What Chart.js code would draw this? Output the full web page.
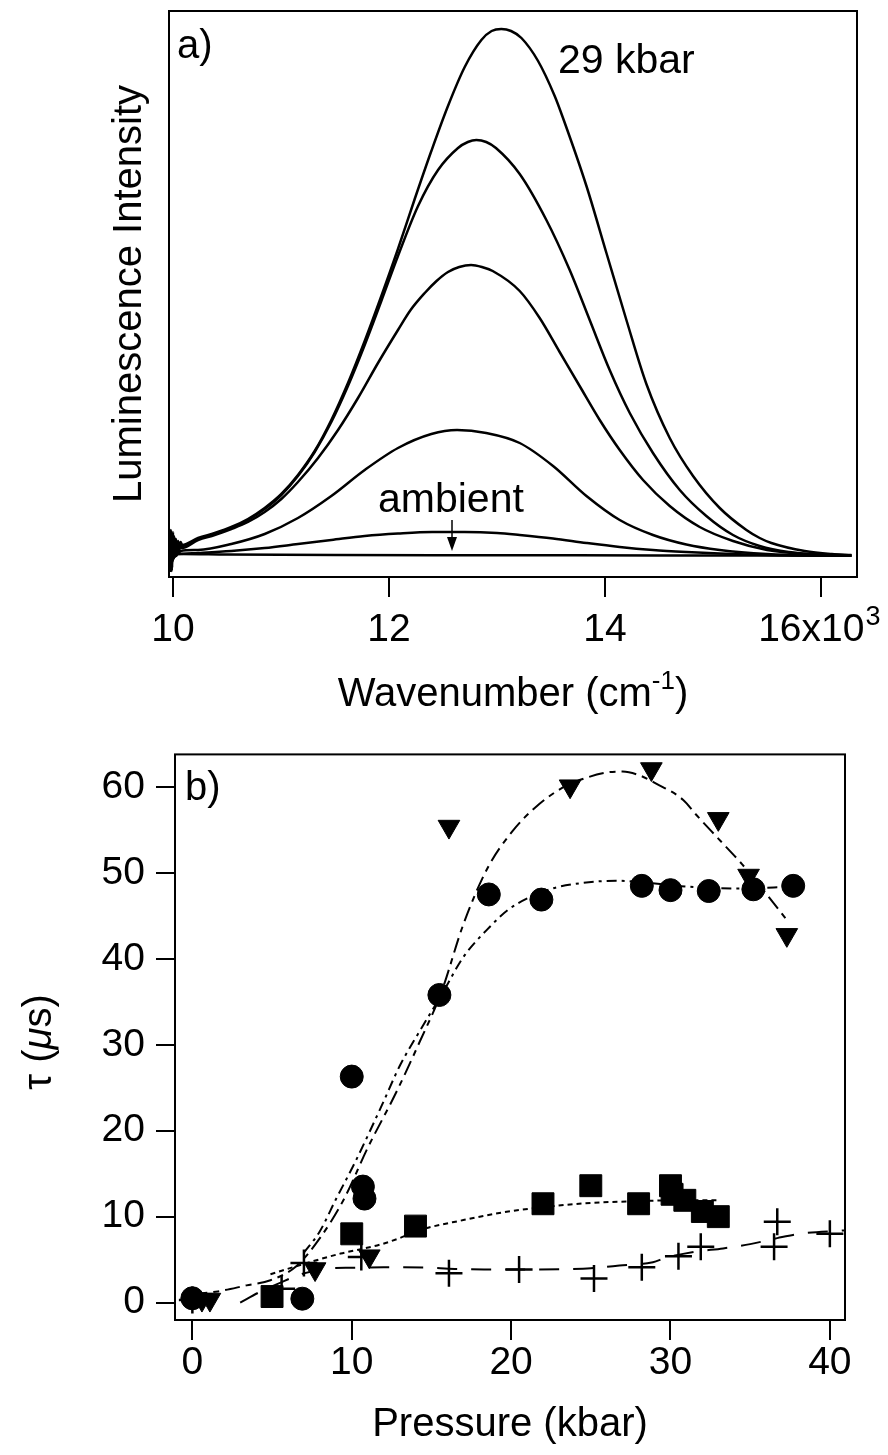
<!DOCTYPE html>
<html>
<head>
<meta charset="utf-8">
<script src="https://cdn.jsdelivr.net/npm/chart.js@4.4.1/dist/chart.umd.min.js"></script>
<style>
  html, body { margin: 0; padding: 0; background: #fff; }
  #wrap { position: relative; width: 888px; height: 1455px; }
  canvas { position: absolute; left: 0; }
  #spectra { top: 0; }
  #lifetimes { top: 720px; }
</style>
</head>
<body>
<div id="wrap">
  <canvas id="spectra" width="888" height="720"></canvas>
  <canvas id="lifetimes" width="888" height="735"></canvas>
</div>
<script>
// --- panel a: luminescence spectra, [wavenumber, intensity] ---
const WN_TICKS = [10000, 12000, 14000, 16000];
const WN_TICK_LABELS = ['10', '12', '14', '16x10\u2002'];
const WN_EXPONENT = '3';   // superscript drawn after the last tick label

const SPEC_29KBAR = [
  [9972, 22], [9976, -14], [9980, 26], [9985, -10], [9990, 20], [9995, -6], [10000, 24], [10006, -3],
  [10013, 19], [10020, 0], [10028, 17], [10037, 4], [10047, 15], [10058, 8], [10070, 14], [10085, 11],
  [10232, 18], [10386, 23], [10540, 29], [10694, 37], [10849, 48], [11003, 62], [11157, 81],
  [11312, 105], [11466, 136], [11620, 173], [11775, 215], [11929, 260], [12083, 307], [12238, 357],
  [12392, 405], [12546, 450], [12701, 489], [12855, 516], [12950, 525], [13040, 527], [13130, 525],
  [13226, 518], [13380, 495], [13534, 460], [13611, 438], [13828, 370], [14013, 303], [14198, 236],
  [14383, 172], [14599, 118], [14815, 80], [15062, 48], [15309, 26], [15432, 18], [15540, 13],
  [15849, 5], [16100, 2], [16281, 1]
];
const SPEC_2 = [
  [9973, -16], [9977, 21], [9982, -8], [9987, 24], [9992, -12], [9997, 18], [10003, -4], [10010, 20],
  [10017, 1], [10025, 16], [10034, 3], [10044, 14], [10055, 6], [10068, 12], [10083, 10],
  [10232, 17], [10386, 22], [10540, 28], [10694, 36], [10849, 47], [11003, 61], [11157, 80],
  [11312, 104], [11466, 134], [11620, 170], [11775, 211], [11929, 255], [12083, 300], [12269, 350],
  [12454, 386], [12639, 408], [12730, 414], [12809, 416], [12900, 414], [12990, 408], [13210, 382],
  [13457, 336], [13673, 286], [13858, 236], [14043, 186], [14229, 143], [14444, 103], [14692, 66],
  [14938, 40], [15185, 21], [15432, 10], [15700, 4], [16000, 1.5], [16281, 0.5]
];
const SPEC_3 = [
  [9974, 20], [9978, -12], [9983, 17], [9989, -15], [9994, 14], [10000, -2], [10007, 16], [10015, -1],
  [10023, 13], [10032, 2], [10042, 11], [10054, 5], [10067, 10], [10082, 8],
  [10232, 16], [10386, 21], [10540, 27], [10694, 34], [10849, 44], [11003, 57], [11157, 74],
  [11343, 98], [11528, 126], [11713, 158], [11898, 193], [12083, 226], [12200, 246], [12331, 263],
  [12440, 275], [12546, 284], [12650, 289], [12760, 291], [12860, 289], [12960, 285], [13210, 265],
  [13395, 238], [13580, 204], [13765, 170], [13951, 136], [14136, 106], [14352, 76], [14599, 50],
  [14877, 29], [15185, 15], [15500, 6], [15850, 2], [16281, 0.5]
];
const SPEC_4 = [
  [9975, 12], [9980, -9], [9986, 10], [9993, -6], [10000, 9], [10008, -2], [10017, 8], [10027, 1],
  [10038, 7], [10052, 3], [10070, 5],
  [10232, 6], [10540, 12], [10849, 22], [11157, 38], [11466, 60], [11775, 86], [12083, 108],
  [12392, 122], [12630, 126], [12900, 123], [13210, 113], [13519, 90], [13828, 60], [14136, 36],
  [14444, 21], [14753, 11.5], [15062, 6], [15500, 2], [16000, 0.5], [16281, 0.3]
];
const SPEC_5 = [
  [9976, 8], [9982, -7], [9989, 7], [9997, -4], [10006, 5], [10016, -1], [10028, 4], [10045, 2],
  [10232, 3], [10540, 5], [10849, 8], [11157, 12], [11466, 16], [11775, 20], [12083, 22.5],
  [12400, 24], [12700, 24], [13000, 23], [13210, 21], [13519, 17.5], [13828, 13], [14136, 9],
  [14444, 6], [14753, 4], [15062, 2.5], [15500, 1], [16281, 0.2]
];
const SPEC_AMBIENT = [
  [9978, 5], [9985, -6], [9993, 4], [10002, -3], [10013, 3], [10027, 0], [10045, 2], [10080, 2],
  [10500, 1.5], [11500, 1], [13000, 0.8], [14500, 0.5], [16281, 0.3]
];

// --- panel b: lifetimes vs pressure, [kbar, tau in us] ---
const P_TICKS = [0, 10, 20, 30, 40];
const TAU_TICKS = [0, 10, 20, 30, 40, 50, 60];

const TRIANGLES = [[0.6, 0.35], [1.1, 0.35], [7.7, 3.9], [11.1, 5.4], [16.1, 55.4], [23.7, 60.1],
  [28.8, 62.1], [33.0, 56.3], [34.9, 49.7], [37.3, 42.8]];
const CIRCLES = [[0, 0.5], [6.9, 0.45], [10.0, 26.3], [10.7, 13.5], [10.8, 12.1], [15.5, 35.8],
  [18.6, 47.5], [21.9, 46.9], [28.2, 48.5], [30.0, 48.0], [32.4, 47.9], [35.2, 48.1], [37.7, 48.5]];
const SQUARES = [[5.0, 0.7], [10.0, 8.0], [14.0, 8.9], [22.0, 11.5], [25.0, 13.6], [28.0, 11.5],
  [30.0, 13.6], [30.1, 12.6], [30.9, 11.9], [32.0, 10.6], [33.0, 10.0]];
const CROSSES = [[0, 0.3], [5.6, 1.6], [7.0, 4.6], [10.6, 5.3], [16.1, 3.4], [20.5, 3.85], [25.2, 2.8],
  [28.2, 4.1], [30.5, 5.4], [31.9, 6.5], [36.5, 6.5], [36.7, 9.4], [40.0, 8.0]];

const FIT_TRI = [[0, 1.0], [1.6, 1.3], [3.4, 2.0], [4.9, 2.6], [6.5, 4.2], [8, 7.5], [9.5, 12], [11, 18],
  [12.8, 24.5], [14.3, 30.5], [15.6, 36], [17, 44], [18.5, 50.5], [20.1, 54.9], [21.5, 57.6],
  [23.2, 59.9], [24.6, 61], [26, 61.7], [27, 61.8], [28, 61.4], [29.1, 60.4], [30.8, 58.5],
  [31.6, 56.8], [33, 54], [34.5, 51], [36, 47.6], [37.4, 44.3]];
const FIT_CIR = [[7, 5.8], [8, 8.3], [9, 12], [10.2, 16.3], [11.9, 23], [13, 27.5], [14.2, 31.4],
  [15.6, 35.7], [17, 40.2], [18.7, 43.8], [19.8, 45.7], [21.2, 47.2], [22.6, 48.2], [24.3, 48.8],
  [26.6, 49.1], [28.3, 48.9], [31.1, 48.4], [33.9, 48.2], [37.8, 48.4]];
const FIT_SQR = [[4.9, 3.3], [7, 4.5], [9.3, 5.7], [11.8, 6.75], [13, 7.5], [14.2, 8.4], [17, 9.6],
  [19.5, 10.5], [22, 11.1], [25, 11.6], [28, 11.8], [30, 11.9], [32.9, 11.9]];
const FIT_CRS = [[3, 0], [4.2, 1.2], [5.5, 2.3], [7, 3.4], [8.5, 3.95], [10, 4.05], [12, 4.1],
  [14.9, 4.05], [16.7, 3.9], [18.3, 3.85], [20, 3.85], [21.5, 3.85], [23.5, 3.9], [25, 4.0],
  [26.8, 4.3], [28.9, 4.7], [29.7, 5.2], [31.5, 5.9], [33.3, 6.3], [35, 6.8], [36.7, 7.5],
  [38.1, 8.0], [40.9, 8.4]];

const FONT = "'Liberation Sans', Arial, Helvetica, sans-serif";
Chart.defaults.font.family = FONT;
Chart.defaults.color = '#000';

const toXY = pts => pts.map(p => ({ x: p[0], y: p[1] }));

// igor-style outside tick marks, no axis line (box is drawn separately)
const tickGrid = len => ({ drawOnChartArea: false, drawTicks: true, tickLength: len, color: '#000', lineWidth: 2 });

// fixed axis size; edge labels may hang out, so don't let them shrink the plot
const fixHeight = h => s => { s.height = h; s.paddingLeft = 0; s.paddingRight = 0; };

// draws the frame round the plot area
const frame = {
  id: 'frame',
  afterDatasetsDraw(chart) {
    const { ctx, chartArea: a } = chart;
    ctx.save();
    ctx.strokeStyle = '#000';
    ctx.lineWidth = 2;
    ctx.strokeRect(a.left, a.top, a.right - a.left, a.bottom - a.top);
    ctx.restore();
  }
};

// write a run of [text, font, dy] pieces, centred on cx
function drawRuns(ctx, runs, cx, y) {
  let total = 0;
  runs.forEach(r => { ctx.font = r[1]; total += ctx.measureText(r[0]).width; });
  let x = cx - total / 2;
  runs.forEach(r => {
    ctx.font = r[1];
    ctx.fillText(r[0], x, y + (r[2] || 0));
    x += ctx.measureText(r[0]).width;
  });
}

const spectraText = {
  id: 'spectraText',
  afterDraw(chart) {
    const ctx = chart.ctx;
    ctx.save();
    ctx.fillStyle = '#000';
    ctx.strokeStyle = '#000';
    ctx.textBaseline = 'alphabetic';
    ctx.textAlign = 'left';
    ctx.font = '40px ' + FONT;
    ctx.fillText('a)', 177, 58);
    ctx.font = '41px ' + FONT;
    ctx.fillText('29 kbar', 558, 73);
    ctx.fillText('ambient', 378, 512);

    // arrow down to the ambient trace
    ctx.lineWidth = 1.5;
    ctx.beginPath();
    ctx.moveTo(452, 520);
    ctx.lineTo(452, 540);
    ctx.stroke();
    ctx.beginPath();
    ctx.moveTo(447, 537);
    ctx.lineTo(457, 537);
    ctx.lineTo(452, 551);
    ctx.closePath();
    ctx.fill();

    // exponent on the last tick label
    const xs = chart.scales.x;
    const last = WN_TICKS.length - 1;
    ctx.font = '39px ' + FONT;
    const full = ctx.measureText(WN_TICK_LABELS[last]).width;
    const pad = ctx.measureText('\u2002').width;
    const ex = xs.getPixelForValue(WN_TICKS[last]) + full / 2 - pad + 1;
    ctx.font = '27px ' + FONT;
    ctx.fillText(WN_EXPONENT, ex, 625);

    // x title with superscript
    const cx = (chart.chartArea.left + chart.chartArea.right) / 2;
    drawRuns(ctx, [
      ['Wavenumber (cm', '40px ' + FONT],
      ['-1', '26px ' + FONT, -17],
      [')', '40px ' + FONT]
    ], cx, 706);
    ctx.restore();
  }
};

const lifetimeText = {
  id: 'lifetimeText',
  afterDraw(chart) {
    const ctx = chart.ctx;
    ctx.save();
    ctx.fillStyle = '#000';
    ctx.textAlign = 'left';
    ctx.textBaseline = 'alphabetic';
    ctx.font = '40px ' + FONT;
    ctx.fillText('b)', 185, 80);

    ctx.translate(40, 322);
    ctx.rotate(-Math.PI / 2);
    ctx.textBaseline = 'middle';
    drawRuns(ctx, [
      ['\u03C4 (', '40px ' + FONT],
      ['\u03BC', 'italic 40px ' + FONT],
      ['s)', '40px ' + FONT]
    ], 0, 0);
    ctx.restore();
  }
};

function spectrumSet(pts) {
  return {
    data: toXY(pts), borderColor: '#000', borderWidth: 2.5, pointRadius: 0,
    cubicInterpolationMode: 'monotone', fill: false
  };
}

new Chart(document.getElementById('spectra'), {
  type: 'line',
  data: {
    datasets: [SPEC_29KBAR, SPEC_2, SPEC_3, SPEC_4, SPEC_5, SPEC_AMBIENT].map(spectrumSet)
  },
  options: {
    responsive: false,
    animation: false,
    devicePixelRatio: 1,
    layout: { padding: { left: 0, right: 31, top: 11, bottom: 0 } },
    plugins: { legend: { display: false }, tooltip: { enabled: false } },
    scales: {
      x: {
        type: 'linear', min: 9963, max: 16333,
        afterBuildTicks: s => { s.ticks = WN_TICKS.map(v => ({ value: v })); },
        afterFit: fixHeight(143),
        ticks: {
          callback: (v, i) => WN_TICK_LABELS[i],
          font: { size: 39 }, padding: 10, maxRotation: 0, autoSkip: false
        },
        grid: tickGrid(20),
        border: { display: false }
      },
      y: {
        min: -21, max: 545,
        afterFit: s => { s.width = 169; },
        ticks: { display: false },
        grid: { display: false },
        border: { display: false },
        title: {
          display: true, text: 'Luminescence Intensity',
          font: { size: 40 }, padding: { top: 106, bottom: 0 }
        }
      }
    }
  },
  plugins: [frame, spectraText]
});

function markerSet(pts, style, radius, extra) {
  return Object.assign({
    data: toXY(pts), showLine: false, pointStyle: style, pointRadius: radius,
    pointBackgroundColor: '#000', pointBorderColor: '#000', pointBorderWidth: 1,
    borderColor: '#000', order: 0
  }, extra || {});
}

function fitSet(pts, dash) {
  return {
    data: toXY(pts), borderColor: '#000', borderWidth: 2, borderDash: dash,
    pointRadius: 0, cubicInterpolationMode: 'monotone', fill: false, order: 1
  };
}

new Chart(document.getElementById('lifetimes'), {
  type: 'line',
  data: {
    datasets: [
      markerSet(TRIANGLES, 'triangle', 12.5, { pointRotation: 180 }),
      markerSet(CIRCLES, 'circle', 11.5),
      markerSet(SQUARES, 'rect', 15.5),
      markerSet(CROSSES, 'cross', 13.5, { pointBorderWidth: 2.5 }),
      fitSet(FIT_TRI, [15, 6, 6, 6]),
      fitSet(FIT_CIR, [10, 5, 3, 5]),
      fitSet(FIT_SQR, [5, 4]),
      fitSet(FIT_CRS, [20, 14])
    ]
  },
  options: {
    responsive: false,
    animation: false,
    devicePixelRatio: 1,
    layout: { padding: { left: 0, right: 43, top: 25, bottom: 0 } },
    plugins: { legend: { display: false }, tooltip: { enabled: false } },
    scales: {
      x: {
        type: 'linear', min: -1.09, max: 40.95,
        afterBuildTicks: s => { s.ticks = P_TICKS.map(v => ({ value: v })); },
        afterFit: fixHeight(135),
        ticks: { font: { size: 39 }, padding: 0, maxRotation: 0, autoSkip: false },
        grid: tickGrid(20),
        border: { display: false },
        title: {
          display: true, text: 'Pressure (kbar)',
          font: { size: 40 }, padding: { top: 0, bottom: 6 }
        }
      },
      y: {
        min: -2.03, max: 63.8,
        afterBuildTicks: s => { s.ticks = TAU_TICKS.map(v => ({ value: v })); },
        afterFit: s => { s.width = 175; },
        ticks: { font: { size: 39 }, padding: 11, autoSkip: false },
        grid: tickGrid(19),
        border: { display: false }
      }
    }
  },
  plugins: [frame, lifetimeText]
});
</script>
</body>
</html>
